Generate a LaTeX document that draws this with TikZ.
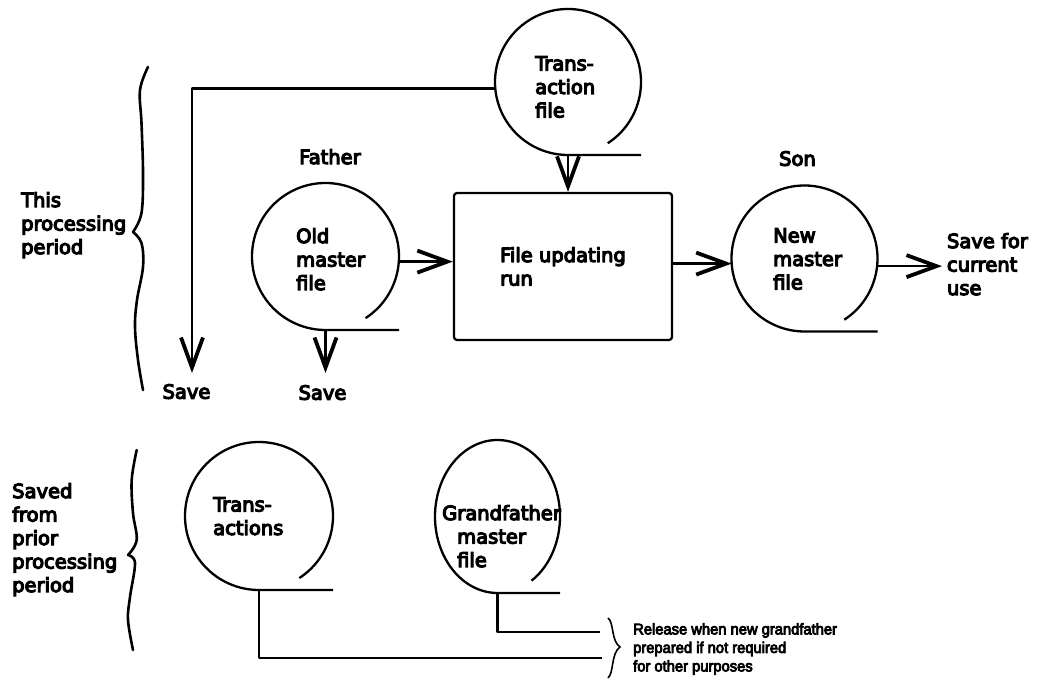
\documentclass[tikz,border=0pt]{standalone}
\usepackage{fontspec}
\setmainfont{DejaVu Sans}[FakeBold=6]
\newfontfamily\notefont{Liberation Sans}[FakeBold=5, FakeStretch=0.95]
\usetikzlibrary{arrows.meta,shapes.geometric}

% tape reel outline: open circle whose end runs off as a tangent to the right
\newcommand{\drawreel}[3]{%
  \draw[line] (#1.center) ++(-57:#2 and #3)
    arc[start angle=-57, delta angle=327, x radius=#2, y radius=#3]
    -- ++(#2,0);}

\begin{document}
\begin{tikzpicture}[x=1pt,y=1pt,
  line/.style={line width=2.3pt, line join=round},
  arr/.style={line, -{Straight Barb[length=30pt,width=22pt,line width=3.8pt]}},
  reel/.style={circle, inner sep=0pt, outer sep=0pt, minimum size=#1},
  txt/.style={inner sep=0pt, align=left, font=\fontsize{19.5}{23.5}\selectfont},
  note/.style={inner sep=0pt, align=left, font=\notefont\fontsize{15.5}{18.5}\selectfont},
  brace/.style={line width=2.6pt, line cap=round}
]
\useasboundingbox (0,0) rectangle (1042,-682);

% ---------- this processing period ----------
\node[reel=146pt] (tf) at (568,-82) {};
\drawreel{tf}{73}{73}
\node[txt, anchor=north west] (tft) at (535,-56) {Trans-\\action\\file};

\node[reel=147pt] (om) at (325.5,-256.5) {};
\drawreel{om}{73.5}{73.5}
\node[txt, anchor=north west] (omt) at (296,-228) {Old\\master\\file};
\node[txt, anchor=north] (father) at (330,-149) {Father};

\node[draw, line, rounded corners=3pt, minimum width=218pt, minimum height=147pt,
      txt] (box) at (563,-266.5) {File updating\\run};

\node[reel=146pt] (nm) at (804.5,-258.5) {};
\drawreel{nm}{73}{73}
\node[txt, anchor=north west] (nmt) at (773,-228) {New\\master\\file};
\node[txt, anchor=north] (son) at (797.5,-151) {Son};

\node[txt, anchor=north west, outer xsep=5pt] (sfc) at (942,-233) {Save for\\current\\use};

\coordinate (s1) at (192,-373);
\node[txt, anchor=north] (save1) at (186.5,-384) {Save};
\node[txt, anchor=north] (save2) at (322.5,-385) {Save};

\draw[arr] (tf.185) -| (s1);
\draw[arr] (tf.south) -- (tf.south |- box.north);
\draw[arr] (om.-4) -- (om.-4 -| box.west);
\draw[arr] (om.south) -- (om.south |- s1);
\draw[arr] (nm.184 -| box.east) -- (nm.184);
\draw[arr] (nm.-6) -- (nm.-6 -| sfc.west);

% brace and caption
\draw[brace] plot[smooth, tension=0.6] coordinates
  {(148,-67) (140,-90) (141.5,-123) (143,-173) (141.5,-213) (133,-232)};
\draw[brace] plot[smooth, tension=0.6] coordinates
  {(133,-232) (141.5,-243) (143,-267) (137,-300) (135,-327) (138,-360) (143,-390)};
\node[txt, anchor=north west] (thisp) at (21,-192) {This\\processing\\period};

% ---------- saved from prior processing period ----------
\node[reel=148pt] (ta) at (259,-516) {};
\drawreel{ta}{74}{74}
\node[txt, anchor=north west] (tat) at (213,-497) {Trans-\\actions};

\node[ellipse, inner sep=0pt, outer sep=0pt, minimum width=125pt, minimum height=153pt]
  (gf) at (497.5,-516.5) {};
\drawreel{gf}{62.5}{76.5}
\node[txt, anchor=north west] (gft) at (442,-505)
  {Grandfather\\\hspace*{15pt}master\\\hspace*{15pt}file};

\draw[brace] plot[smooth, tension=0.6] coordinates
  {(136.7,-450) (131.7,-480) (133,-513) (136.7,-540) (128,-555)};
\draw[brace] plot[smooth, tension=0.6] coordinates
  {(128,-555) (135,-563) (130,-597) (128,-620) (133,-650)};
\node[txt, anchor=north west] (prior) at (12,-483)
  {Saved\\from\\prior\\processing\\period};

\coordinate (r1) at (602,-658);
\coordinate (r2) at (600,-632);
\draw[line] (ta.south) |- (r1);
\draw[line] (gf.south) |- (r2);

\draw[line width=1.6pt] (608,-618) .. controls (614,-622) and (611,-641) .. (620,-647)
  .. controls (611,-653) and (614,-673) .. (608,-678);
\node[note, anchor=north west] (rel) at (633,-623)
  {Release when new grandfather\\prepared if not required\\for other purposes};
\end{tikzpicture}
\end{document}
